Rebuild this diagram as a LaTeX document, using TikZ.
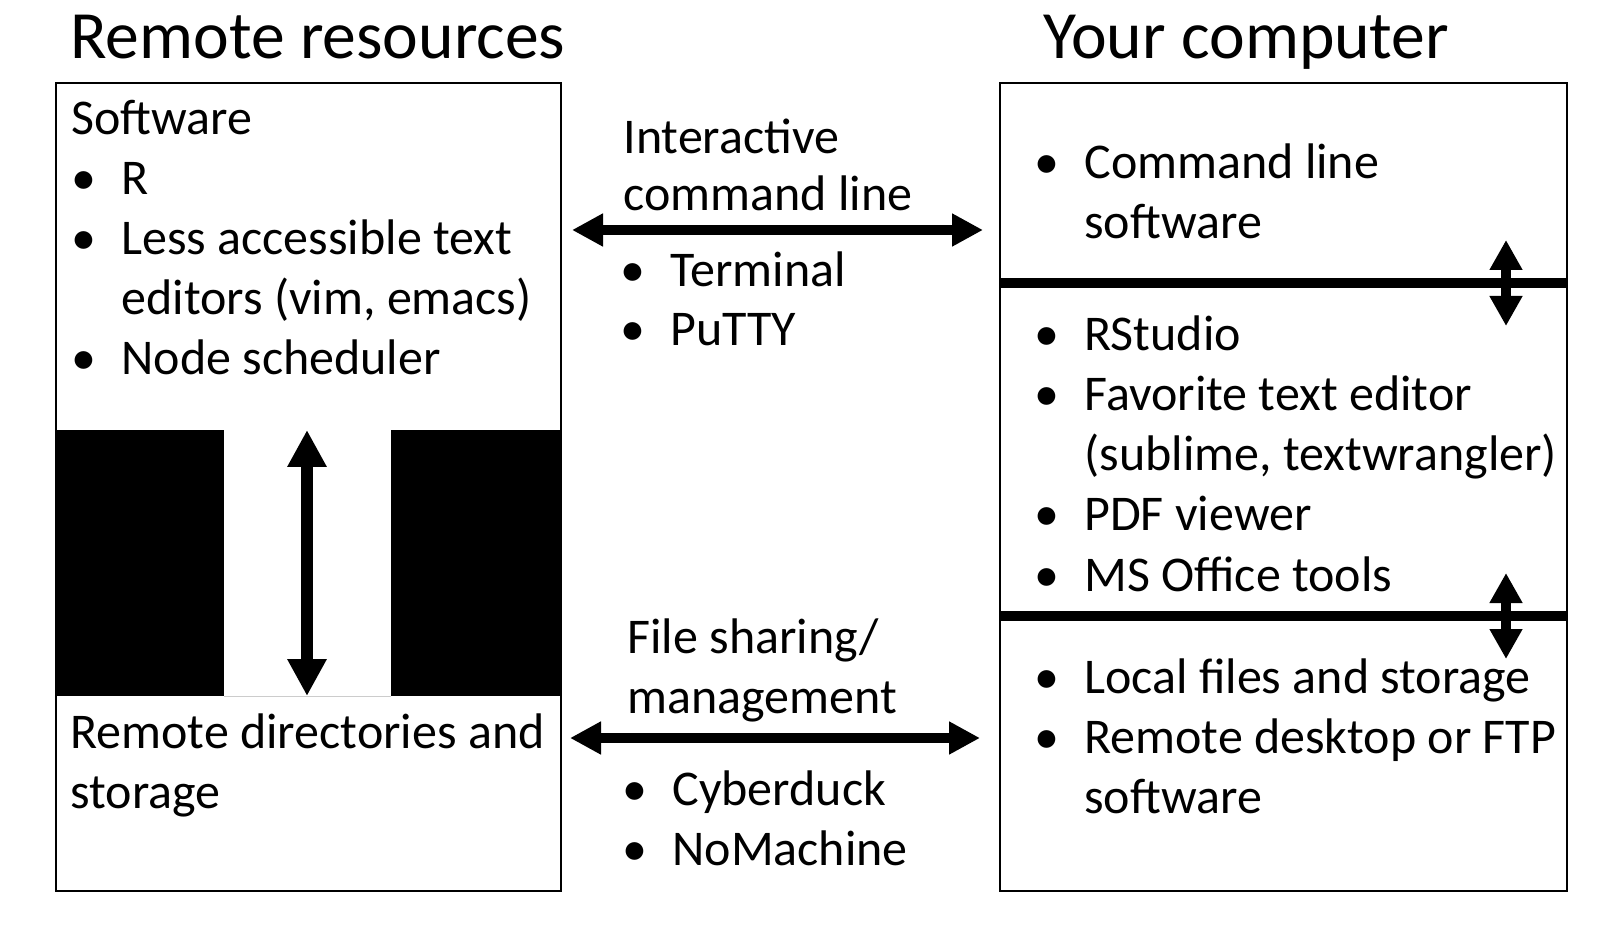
\documentclass[tikz,border=0pt]{standalone}
\usepackage{fontspec}
\setmainfont{Carlito}
\usetikzlibrary{arrows.meta,positioning}
\newcommand{\bodyfont}{\fontsize{25}{30}\selectfont}
\newcommand{\bul}{\makebox[25pt][l]{\textbullet}}
\newcommand{\ind}{\hspace*{25pt}}
\tikzset{
  box/.style={draw=black, line width=1pt},
  block/.style={fill=black},
  sep/.style={line width=5pt},
  link/.style={{Triangle[length=15.5pt,width=15.5pt]}-{Triangle[length=15.5pt,width=15.5pt]}, line width=5pt},
  bigswap/.style={{Triangle[length=18.5pt,width=18.5pt]}-{Triangle[length=18.5pt,width=18.5pt]}, line width=6pt},
  swap/.style={{Triangle[length=15pt,width=15.5pt]}-{Triangle[length=15pt,width=15.5pt]}, line width=5pt},
  txt/.style={anchor=base west, inner sep=0pt, text width=290pt, align=left, font=\bodyfont,
    execute at begin node={\spaceskip=0pt\xspaceskip=0pt}},
  title/.style={anchor=base west, inner sep=0pt, font=\fontsize{33.8}{40}\selectfont}
}

\begin{document}
\begin{tikzpicture}[x=0.5pt, y=-0.5pt]
  \useasboundingbox (0,0) rectangle (1615,940);

  % Titles
  \node[title] (remote_title) at (70,59) {Remote resources};
  \node[title] (local_title) at (1043,59) {Your computer};

  % Remote box with the black blocks
  \draw[box] (56,83) rectangle (561,891);
  \fill[block] (56,430) rectangle (224,696);
  \fill[block] (391,430) rectangle (561,696);
  \draw[gray!40, line width=0.5pt] (224,696) -- (391,696);
  \coordinate (sw_end) at (307,430);
  \coordinate (st_end) at (307,696);
  \draw[bigswap] (st_end) -- (sw_end);

  \node[txt] (software) at (71,135) {Software\\
    \bul R\\
    \bul Less accessible text\\
    \ind editors (vim, emacs)\\
    \bul Node scheduler};
  \node[txt] (storage) at (70,748) {Remote directories and\\storage};

  % Local box with its three parts
  \draw[box] (1000,83) rectangle (1567,891);
  \draw[sep] (1000,283) -- (1567,283);
  \draw[sep] (1000,616) -- (1567,616);
  \foreach \y in {283,616} {
    \coordinate (up_\y) at (1506,\y-43);
    \coordinate (dn_\y) at (1506,\y+43);
    \draw[swap] (up_\y) -- (dn_\y);
  }

  \node[txt] (cmdline) at (1034,179) {\bul Command line\\\ind software};
  \node[txt] (tools) at (1034,351) {\bul RStudio\\
    \bul Favorite text editor\\
    \ind (sublime, textwrangler)\\
    \bul PDF viewer\\
    \bul MS Office tools};
  \node[txt] (files) at (1034,693) {\bul Local files and storage\\
    \bul Remote desktop or FTP\\
    \ind software};

  % Interactive command line
  \node[txt, font=\fontsize{25}{28.5}\selectfont] (cli) at (623,154) {Interactive\\command line};
  \coordinate (cli_w) at (572,230);
  \coordinate (cli_e) at (983,230);
  \draw[link] (cli_w) -- (cli_e);
  \node[txt, font=\fontsize{25}{29.5}\selectfont] (cli_tools) at (620,287) {\bul Terminal\\\bul PuTTY};

  % File sharing
  \node[txt] (share) at (627,653) {File sharing/\\management};
  \coordinate (share_w) at (570,738);
  \coordinate (share_e) at (980,738);
  \draw[link] (share_w) -- (share_e);
  \node[txt] (share_tools) at (622,805) {\bul Cyberduck\\\bul NoMachine};
\end{tikzpicture}
\end{document}
